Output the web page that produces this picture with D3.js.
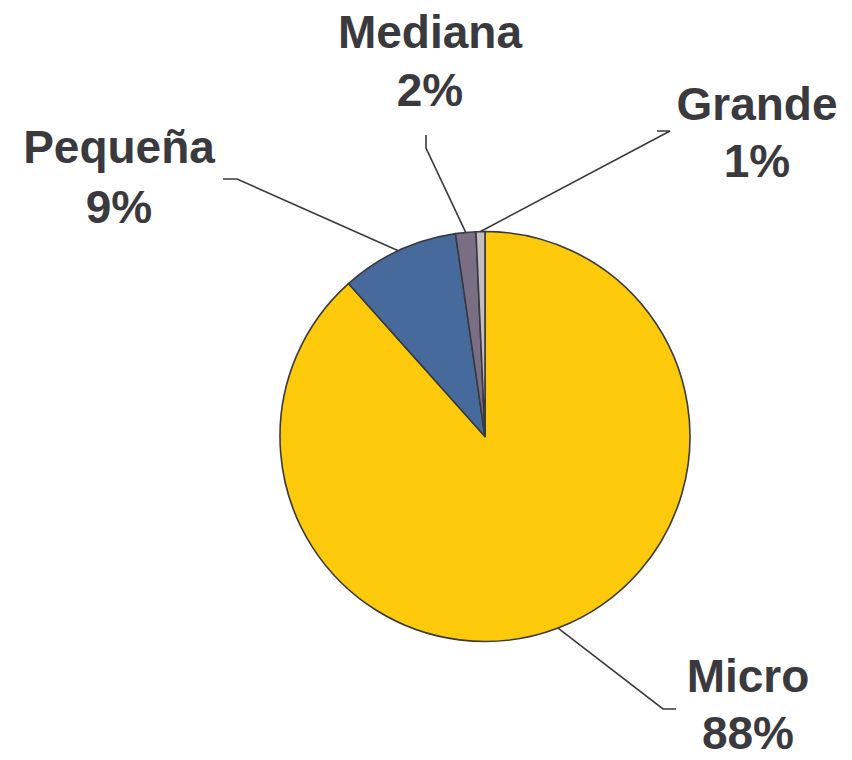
<!DOCTYPE html>
<html>
<head>
<meta charset="utf-8">
<script src="https://cdn.jsdelivr.net/npm/d3@7/dist/d3.min.js"></script>
<style>
  html, body { margin: 0; padding: 0; background: #fff; }
  svg { display: block; }
</style>
</head>
<body>
<svg id="chart" width="852" height="760"></svg>
<script>
// Companies by size (share of total, %)
const categories = ["Micro", "Pequeña", "Mediana", "Grande"];
const shares = [88.4, 9.3, 1.6, 0.7];
const colors = ["#FCCA0A", "#466A9B", "#7A6E84", "#C3BDBD"];

// Label layout: text anchor point, line gap and the elbow of each leader line
const labelLayout = {
  "Micro":   { x: 748, y: 692, gap: 57, elbow: [[663, 709], [676, 709]] },
  "Pequeña": { x: 119, y: 163, gap: 60, elbow: [[237, 179], [223, 179]] },
  "Mediana": { x: 430, y: 48,  gap: 58, elbow: [[426, 148], [426, 135]] },
  "Grande":  { x: 757, y: 120, gap: 57, elbow: [[670, 131], [657, 131]] }
};

const cx = 485, cy = 436.5, radius = 205;
const ink = "#3A3A3E";

const svg = d3.select("#chart");
const g = svg.append("g").attr("transform", `translate(${cx},${cy})`);

const data = categories.map((c, i) => ({ name: c, value: shares[i], color: colors[i] }));

const pie = d3.pie().sort(null).value(d => d.value).startAngle(0).endAngle(2 * Math.PI);
const arc = d3.arc().innerRadius(0).outerRadius(radius);
const arcs = pie(data);

g.selectAll("path.slice")
  .data(arcs)
  .join("path")
  .attr("class", "slice")
  .attr("d", arc)
  .attr("fill", d => d.data.color)
  .attr("stroke", ink)
  .attr("stroke-width", 1.6)
  .attr("stroke-linejoin", "round");

// Leader lines from the slice's outer mid-point to the label
const line = d3.line();
arcs.forEach(d => {
  const mid = (d.startAngle + d.endAngle) / 2;
  const p0 = [cx + radius * Math.sin(mid), cy - radius * Math.cos(mid)];
  const lay = labelLayout[d.data.name];
  svg.append("path")
    .attr("d", line([p0, ...lay.elbow]))
    .attr("fill", "none")
    .attr("stroke", ink)
    .attr("stroke-width", 1.6);
});

// Labels: name and rounded percentage
const total = d3.sum(shares);
arcs.forEach(d => {
  const lay = labelLayout[d.data.name];
  const t = svg.append("text")
    .attr("x", lay.x)
    .attr("y", lay.y)
    .attr("text-anchor", "middle")
    .attr("font-family", "'Liberation Sans', Arial, Helvetica, sans-serif")
    .attr("font-weight", "bold")
    .attr("font-size", 46)
    .attr("fill", ink);
  t.append("tspan").attr("x", lay.x).text(d.data.name);
  t.append("tspan").attr("x", lay.x).attr("dy", lay.gap)
    .text(Math.round(d.data.value / total * 100) + "%");
});
</script>
</body>
</html>
